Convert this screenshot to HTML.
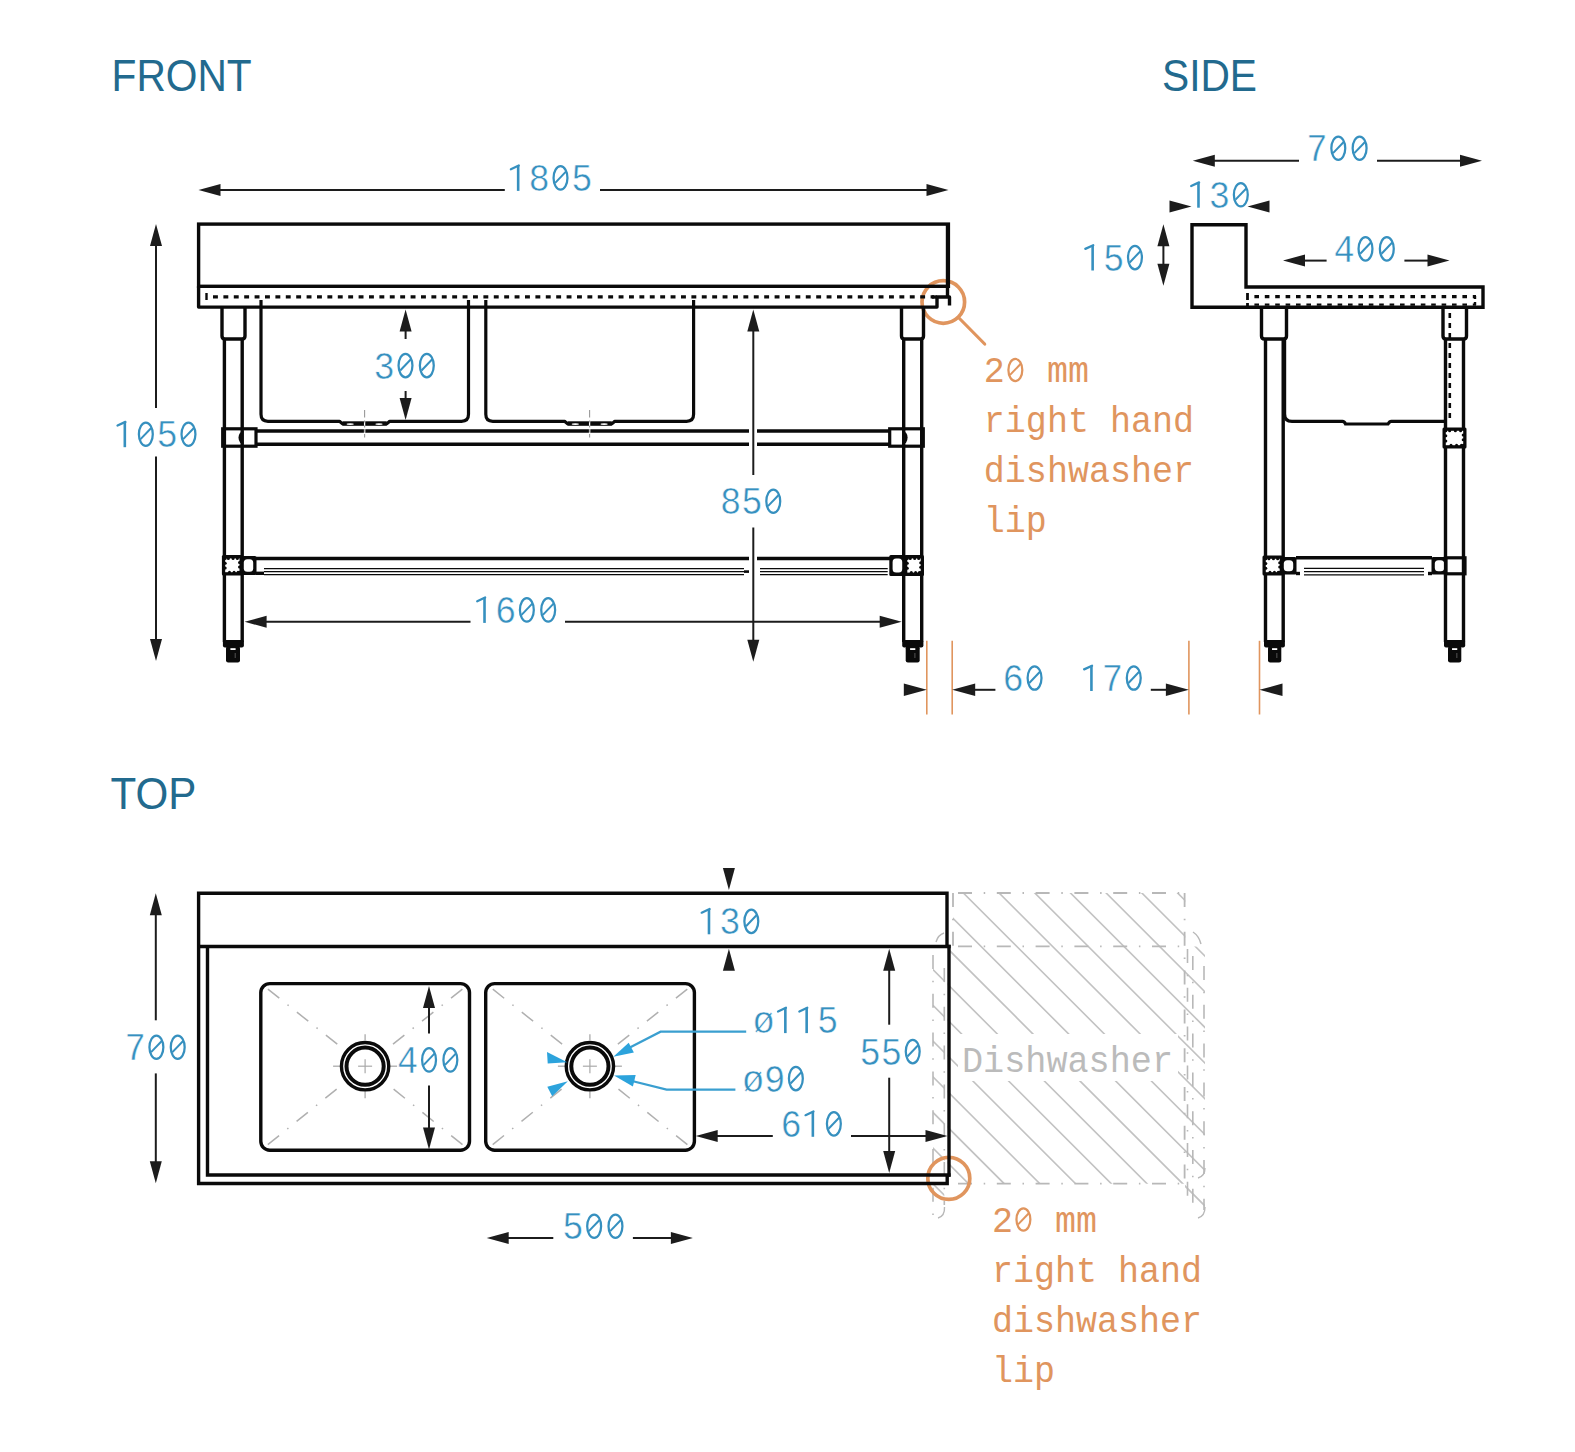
<!DOCTYPE html>
<html><head><meta charset="utf-8"><style>
html,body{margin:0;padding:0;background:#fff;}
svg{display:block;}
</style></head><body>
<svg width="1575" height="1452" viewBox="0 0 1575 1452">
<rect width="1575" height="1452" fill="#fff"/>
<defs><clipPath id="dwclip"><rect x="953" y="893" width="232.3" height="53.4"/><rect x="933" y="946.4" width="272" height="237.3"/><rect x="933" y="1183" width="11.3" height="29"/><rect x="1185" y="1183" width="20" height="29"/></clipPath></defs>
<g clip-path="url(#dwclip)"><line x1="403.6" y1="833" x2="803.6" y2="1233" stroke="#c2c2c2" stroke-width="1.6"/><line x1="439.3" y1="833" x2="839.3" y2="1233" stroke="#c2c2c2" stroke-width="1.6"/><line x1="475.0" y1="833" x2="875.0" y2="1233" stroke="#c2c2c2" stroke-width="1.6"/><line x1="510.7" y1="833" x2="910.7" y2="1233" stroke="#c2c2c2" stroke-width="1.6"/><line x1="546.4" y1="833" x2="946.4" y2="1233" stroke="#c2c2c2" stroke-width="1.6"/><line x1="582.1" y1="833" x2="982.1" y2="1233" stroke="#c2c2c2" stroke-width="1.6"/><line x1="617.8" y1="833" x2="1017.8" y2="1233" stroke="#c2c2c2" stroke-width="1.6"/><line x1="653.5" y1="833" x2="1053.5" y2="1233" stroke="#c2c2c2" stroke-width="1.6"/><line x1="689.2" y1="833" x2="1089.2" y2="1233" stroke="#c2c2c2" stroke-width="1.6"/><line x1="724.9" y1="833" x2="1124.9" y2="1233" stroke="#c2c2c2" stroke-width="1.6"/><line x1="760.6" y1="833" x2="1160.6" y2="1233" stroke="#c2c2c2" stroke-width="1.6"/><line x1="796.3" y1="833" x2="1196.3" y2="1233" stroke="#c2c2c2" stroke-width="1.6"/><line x1="832.0" y1="833" x2="1232.0" y2="1233" stroke="#c2c2c2" stroke-width="1.6"/><line x1="867.7" y1="833" x2="1267.7" y2="1233" stroke="#c2c2c2" stroke-width="1.6"/><line x1="903.4" y1="833" x2="1303.4" y2="1233" stroke="#c2c2c2" stroke-width="1.6"/><line x1="939.1" y1="833" x2="1339.1" y2="1233" stroke="#c2c2c2" stroke-width="1.6"/><line x1="974.8" y1="833" x2="1374.8" y2="1233" stroke="#c2c2c2" stroke-width="1.6"/><line x1="1010.5" y1="833" x2="1410.5" y2="1233" stroke="#c2c2c2" stroke-width="1.6"/><line x1="1046.2" y1="833" x2="1446.2" y2="1233" stroke="#c2c2c2" stroke-width="1.6"/><line x1="1081.9" y1="833" x2="1481.9" y2="1233" stroke="#c2c2c2" stroke-width="1.6"/><line x1="1117.6" y1="833" x2="1517.6" y2="1233" stroke="#c2c2c2" stroke-width="1.6"/><line x1="1153.3" y1="833" x2="1553.3" y2="1233" stroke="#c2c2c2" stroke-width="1.6"/><line x1="1189.0" y1="833" x2="1589.0" y2="1233" stroke="#c2c2c2" stroke-width="1.6"/><line x1="1224.7" y1="833" x2="1624.7" y2="1233" stroke="#c2c2c2" stroke-width="1.6"/><line x1="1260.4" y1="833" x2="1660.4" y2="1233" stroke="#c2c2c2" stroke-width="1.6"/><line x1="1296.1" y1="833" x2="1696.1" y2="1233" stroke="#c2c2c2" stroke-width="1.6"/><line x1="1331.8" y1="833" x2="1731.8" y2="1233" stroke="#c2c2c2" stroke-width="1.6"/><line x1="1367.5" y1="833" x2="1767.5" y2="1233" stroke="#c2c2c2" stroke-width="1.6"/><rect x="958" y="1034" width="220" height="47" fill="#fff"/><rect x="944.6" y="946" width="3" height="240" fill="#fff"/></g>
<line x1="953" y1="893" x2="1185.3" y2="893" stroke="#b8b8b8" stroke-width="1.8" stroke-dasharray="14 11.7 1.5 11.6" stroke-dashoffset="-5"/>
<line x1="953" y1="946.4" x2="1185.3" y2="946.4" stroke="#b8b8b8" stroke-width="1.8" stroke-dasharray="14 11.7 1.5 11.6" stroke-dashoffset="-5"/>
<line x1="953" y1="1183.7" x2="1185.3" y2="1183.7" stroke="#b8b8b8" stroke-width="1.8" stroke-dasharray="14 11.7 1.5 11.6" stroke-dashoffset="-5"/>
<line x1="953" y1="893" x2="953" y2="946.4" stroke="#b8b8b8" stroke-width="1.8" stroke-dasharray="14 11.7 1.5 11.6"/>
<line x1="1184.6" y1="893" x2="1184.6" y2="1183.7" stroke="#b8b8b8" stroke-width="1.8" stroke-dasharray="14 11.7 1.5 11.6"/>
<line x1="933" y1="955" x2="933" y2="1215" stroke="#b8b8b8" stroke-width="1.6" stroke-dasharray="14 11.7 1.5 11.6"/>
<line x1="944.3" y1="960" x2="944.3" y2="1205" stroke="#b8b8b8" stroke-width="1.6" stroke-dasharray="14 11.7 1.5 11.6" stroke-dashoffset="-8"/>
<line x1="1187.5" y1="946" x2="1187.5" y2="1205" stroke="#b8b8b8" stroke-width="1.6" stroke-dasharray="14 11.7 1.5 11.6" stroke-dashoffset="-3"/>
<line x1="1192.8" y1="946" x2="1192.8" y2="1205" stroke="#b8b8b8" stroke-width="1.6" stroke-dasharray="14 11.7 1.5 11.6" stroke-dashoffset="-10"/>
<line x1="1204" y1="960" x2="1204" y2="1210" stroke="#b8b8b8" stroke-width="1.6" stroke-dasharray="14 11.7 1.5 11.6" stroke-dashoffset="-6"/>
<path d="M936,942 Q938,935 944,933" stroke="#b8b8b8" stroke-width="1.4" fill="none" />
<path d="M1193,932 Q1199,936 1201,944" stroke="#b8b8b8" stroke-width="1.4" fill="none" />
<path d="M944.5,1207 Q945,1216 938,1218" stroke="#b8b8b8" stroke-width="1.4" fill="none" />
<path d="M1205,1207 Q1205,1216 1198,1218" stroke="#b8b8b8" stroke-width="1.4" fill="none" />
<path d="M1205,1168 Q1205,1176 1198,1178" stroke="#b8b8b8" stroke-width="1.4" fill="none" />
<circle cx="948.8" cy="1178.4" r="21" fill="none" stroke="#e0955e" stroke-width="3.7"/>
<circle cx="943.3" cy="302" r="21.3" fill="none" stroke="#e0955e" stroke-width="3.7"/>
<text transform="translate(111.6,91.0) scale(1.0,1.105)" x="0" y="0" font-family="Liberation Sans" font-size="40.7" fill="#226a8e">FRONT</text>
<polygon points="198.5,190.0 220.5,184.0 220.5,196.0" fill="#1c1c1c"/>
<polygon points="948.5,190.0 926.5,184.0 926.5,196.0" fill="#1c1c1c"/>
<line x1="219.5" y1="190" x2="504.8" y2="190" stroke="#1c1c1c" stroke-width="2.0" />
<line x1="600" y1="190" x2="927.5" y2="190" stroke="#1c1c1c" stroke-width="2.0" />
<text transform="translate(507.21,190.90) scale(1.045,1.14)" x="0" y="0" font-family="Liberation Mono" font-size="34" fill="#3690bf" stroke="#fff" stroke-width="0.45" xml:space="preserve"> 8 5</text>
<line x1="518.17" y1="190.90" x2="518.17" y2="165.57" stroke="#3690bf" stroke-width="2.6"/>
<path d="M518.77,165.57 L510.87,169.27" stroke="#3690bf" stroke-width="2.3" stroke-linecap="round" fill="none"/>
<ellipse cx="560.51" cy="177.94" rx="6.95" ry="11.71" fill="none" stroke="#3690bf" stroke-width="2.25"/>
<line x1="555.21" y1="182.84" x2="565.91" y2="171.64" stroke="#3690bf" stroke-width="2.0"/>
<rect x="198.6" y="224.1" width="749.8" height="62.20000000000002" rx="0" stroke="#0a0a0a" stroke-width="3.4" fill="none" />
<path d="M198.6,286.3 L198.6,307.1 L937,307.1 L937,297 L949.5,297 L949.5,305.5" stroke="#0a0a0a" stroke-width="3.4" fill="none" stroke-linejoin="round"/>
<line x1="932" y1="297" x2="937" y2="297" stroke="#0a0a0a" stroke-width="3.4" />
<line x1="947.5" y1="224" x2="947.5" y2="297" stroke="#0a0a0a" stroke-width="3.4" />
<line x1="213" y1="296.8" x2="934" y2="296.8" stroke="#0a0a0a" stroke-width="3.2" stroke-dasharray="4.9 5.5"/>
<line x1="206.5" y1="293" x2="206.5" y2="300" stroke="#0a0a0a" stroke-width="2.4" />
<path d="M222,307 L222,336 Q222,339 225,339 L242,339 Q245,339 245,336 L245,307" stroke="#0a0a0a" stroke-width="3.4" fill="none" />
<line x1="224.4" y1="339" x2="224.4" y2="642" stroke="#0a0a0a" stroke-width="3.4" />
<line x1="242.2" y1="339" x2="242.2" y2="642" stroke="#0a0a0a" stroke-width="3.4" />
<rect x="222.90" y="640.00" width="21.00" height="7.6" rx="2" fill="#0a0a0a"/>
<rect x="226" y="646" width="14.00" height="16.50" rx="2.2" fill="#0a0a0a"/>
<rect x="230.40" y="648.20" width="5.2" height="1.8" fill="#fff"/>
<line x1="235.20" y1="653.00" x2="235.20" y2="658.00" stroke="#555" stroke-width="1"/>
<path d="M901.5,307 L901.5,336 Q901.5,339 904.5,339 L920.5,339 Q923.5,339 923.5,336 L923.5,307" stroke="#0a0a0a" stroke-width="3.4" fill="none" />
<line x1="903.7" y1="339" x2="903.7" y2="642" stroke="#0a0a0a" stroke-width="3.4" />
<line x1="921.7" y1="339" x2="921.7" y2="642" stroke="#0a0a0a" stroke-width="3.4" />
<rect x="902.20" y="640.00" width="21.20" height="7.6" rx="2" fill="#0a0a0a"/>
<rect x="905.7" y="646" width="14.00" height="16.50" rx="2.2" fill="#0a0a0a"/>
<rect x="910.10" y="648.20" width="5.2" height="1.8" fill="#fff"/>
<line x1="914.90" y1="653.00" x2="914.90" y2="658.00" stroke="#555" stroke-width="1"/>
<path d="M261,300 L261,414.3 Q261,421.3 268,421.3 L339.5,421.3 L342.5,423.90000000000003 L386.7,423.90000000000003 L389.7,421.3 L461.5,421.3 Q468.5,421.3 468.5,414.3 L468.5,300" stroke="#0a0a0a" stroke-width="3.2" fill="none" stroke-linejoin="round"/>
<rect x="342.5" y="421.3" width="44.19999999999999" height="4.3" fill="#0a0a0a"/>
<ellipse cx="350.2" cy="424.1" rx="3.6" ry="0.9" fill="#fff"/>
<ellipse cx="379.0" cy="424.1" rx="3.6" ry="0.9" fill="#fff"/>
<line x1="364.6" y1="409" x2="364.6" y2="438" stroke="#fff" stroke-width="1.3" />
<line x1="364.6" y1="409.9" x2="364.6" y2="438" stroke="#999" stroke-width="1.1" stroke-dasharray="7.5 3 2 3 2 2.5 3.5"/>
<path d="M485.8,300 L485.8,414.3 Q485.8,421.3 492.8,421.3 L564.6,421.3 L567.6,423.90000000000003 L611.8,423.90000000000003 L614.8,421.3 L686.6,421.3 Q693.6,421.3 693.6,414.3 L693.6,300" stroke="#0a0a0a" stroke-width="3.2" fill="none" stroke-linejoin="round"/>
<rect x="567.6" y="421.3" width="44.19999999999993" height="4.3" fill="#0a0a0a"/>
<ellipse cx="575.3000000000001" cy="424.1" rx="3.6" ry="0.9" fill="#fff"/>
<ellipse cx="604.0999999999999" cy="424.1" rx="3.6" ry="0.9" fill="#fff"/>
<line x1="589.6" y1="409" x2="589.6" y2="438" stroke="#fff" stroke-width="1.3" />
<line x1="589.6" y1="409.9" x2="589.6" y2="438" stroke="#999" stroke-width="1.1" stroke-dasharray="7.5 3 2 3 2 2.5 3.5"/>
<line x1="255.8" y1="431" x2="749" y2="431" stroke="#0a0a0a" stroke-width="3.4" />
<line x1="757" y1="431" x2="889.7" y2="431" stroke="#0a0a0a" stroke-width="3.4" />
<line x1="255.8" y1="444.3" x2="749" y2="444.3" stroke="#0a0a0a" stroke-width="3.4" />
<line x1="757" y1="444.3" x2="889.7" y2="444.3" stroke="#0a0a0a" stroke-width="3.4" />
<rect x="222.7" y="428.8" width="33.30000000000001" height="17.399999999999977" rx="0" stroke="#0a0a0a" stroke-width="3.2" fill="none" />
<rect x="889.7" y="428.8" width="33.59999999999991" height="17.399999999999977" rx="0" stroke="#0a0a0a" stroke-width="3.2" fill="none" />
<path d="M243.5,431 A5,6.6 0 0 0 243.5,444.2 Z" fill="#0a0a0a"/>
<path d="M903,431.2 A4.6,6.4 0 0 1 903,444 Z" fill="#0a0a0a"/>
<line x1="364.6" y1="428.5" x2="364.6" y2="438" stroke="#fff" stroke-width="1.4" />
<line x1="364.6" y1="429" x2="364.6" y2="432.6" stroke="#aaa" stroke-width="1.1" />
<line x1="364.6" y1="433.9" x2="364.6" y2="437.5" stroke="#999" stroke-width="1.1" />
<line x1="589.6" y1="428.5" x2="589.6" y2="438" stroke="#fff" stroke-width="1.4" />
<line x1="589.6" y1="429" x2="589.6" y2="432.6" stroke="#aaa" stroke-width="1.1" />
<line x1="589.6" y1="433.9" x2="589.6" y2="437.5" stroke="#999" stroke-width="1.1" />
<line x1="256" y1="558.5" x2="749" y2="558.5" stroke="#0a0a0a" stroke-width="3.4" />
<line x1="757" y1="558.5" x2="890" y2="558.5" stroke="#0a0a0a" stroke-width="3.4" />
<line x1="256" y1="573.3" x2="264" y2="573.3" stroke="#0a0a0a" stroke-width="3.4" />
<line x1="264" y1="568.6" x2="744" y2="568.6" stroke="#0a0a0a" stroke-width="1.2" />
<line x1="760" y1="568.6" x2="887.7" y2="568.6" stroke="#0a0a0a" stroke-width="1.2" />
<line x1="264" y1="571.6" x2="744" y2="571.6" stroke="#0a0a0a" stroke-width="1.2" />
<line x1="760" y1="571.6" x2="887.7" y2="571.6" stroke="#0a0a0a" stroke-width="1.2" />
<line x1="264" y1="574.6" x2="744" y2="574.6" stroke="#0a0a0a" stroke-width="1.2" />
<line x1="760" y1="574.6" x2="887.7" y2="574.6" stroke="#0a0a0a" stroke-width="1.2" />
<line x1="744" y1="571.6" x2="749" y2="571.6" stroke="#0a0a0a" stroke-width="2.6" />
<rect x="240.5" y="556" width="16.00" height="19.00" rx="1.5" fill="#0a0a0a"/>
<rect x="243.80" y="559.30" width="9.40" height="12.40" rx="3.5" fill="#fff"/>
<rect x="221.9" y="555.1" width="20.90" height="20.40" rx="1.5" fill="#0a0a0a"/>
<rect x="225.20" y="558.40" width="14.30" height="13.80" fill="#fff"/>
<circle cx="228.35" cy="558.40" r="1.5" fill="#0a0a0a"/>
<circle cx="233.06" cy="558.40" r="1.5" fill="#0a0a0a"/>
<circle cx="237.35" cy="558.40" r="1.5" fill="#0a0a0a"/>
<circle cx="225.20" cy="563.23" r="1.5" fill="#0a0a0a"/>
<circle cx="225.20" cy="568.06" r="1.5" fill="#0a0a0a"/>
<circle cx="239.50" cy="562.54" r="1.5" fill="#0a0a0a"/>
<circle cx="239.50" cy="566.96" r="1.5" fill="#0a0a0a"/>
<circle cx="229.49" cy="572.20" r="1.5" fill="#0a0a0a"/>
<circle cx="234.07" cy="572.20" r="1.5" fill="#0a0a0a"/>
<circle cx="238.07" cy="572.20" r="1.5" fill="#0a0a0a"/>
<circle cx="225.20" cy="558.40" r="1.5" fill="#0a0a0a"/>
<circle cx="239.50" cy="572.20" r="1.5" fill="#0a0a0a"/>
<circle cx="232.35" cy="565.30" r="4.97" fill="#fff"/>
<rect x="889.3" y="555.1" width="16.20" height="20.80" rx="1.5" fill="#0a0a0a"/>
<rect x="892.60" y="558.40" width="9.60" height="14.20" rx="3.5" fill="#fff"/>
<rect x="904" y="555.1" width="20.00" height="20.80" rx="1.5" fill="#0a0a0a"/>
<rect x="907.30" y="558.40" width="13.40" height="14.20" fill="#fff"/>
<circle cx="910.25" cy="558.40" r="1.5" fill="#0a0a0a"/>
<circle cx="914.67" cy="558.40" r="1.5" fill="#0a0a0a"/>
<circle cx="918.69" cy="558.40" r="1.5" fill="#0a0a0a"/>
<circle cx="907.30" cy="563.37" r="1.5" fill="#0a0a0a"/>
<circle cx="907.30" cy="568.34" r="1.5" fill="#0a0a0a"/>
<circle cx="920.70" cy="562.66" r="1.5" fill="#0a0a0a"/>
<circle cx="920.70" cy="567.20" r="1.5" fill="#0a0a0a"/>
<circle cx="911.32" cy="572.60" r="1.5" fill="#0a0a0a"/>
<circle cx="915.61" cy="572.60" r="1.5" fill="#0a0a0a"/>
<circle cx="919.36" cy="572.60" r="1.5" fill="#0a0a0a"/>
<circle cx="907.30" cy="558.40" r="1.5" fill="#0a0a0a"/>
<circle cx="920.70" cy="572.60" r="1.5" fill="#0a0a0a"/>
<circle cx="914.00" cy="565.50" r="4.82" fill="#fff"/>
<polygon points="156.0,224.0 150.0,246.0 162.0,246.0" fill="#1c1c1c"/>
<polygon points="156.0,661.0 150.0,639.0 162.0,639.0" fill="#1c1c1c"/>
<line x1="156" y1="245" x2="156" y2="407.9" stroke="#1c1c1c" stroke-width="2.0" />
<line x1="156" y1="456.5" x2="156" y2="640" stroke="#1c1c1c" stroke-width="2.0" />
<text transform="translate(113.86,447.20) scale(1.045,1.14)" x="0" y="0" font-family="Liberation Mono" font-size="34" fill="#3690bf" stroke="#fff" stroke-width="0.45" xml:space="preserve">  5 </text>
<line x1="124.82" y1="447.20" x2="124.82" y2="421.87" stroke="#3690bf" stroke-width="2.6"/>
<path d="M125.42,421.87 L117.52,425.57" stroke="#3690bf" stroke-width="2.3" stroke-linecap="round" fill="none"/>
<ellipse cx="145.84" cy="434.24" rx="6.95" ry="11.71" fill="none" stroke="#3690bf" stroke-width="2.25"/>
<line x1="140.54" y1="439.14" x2="151.24" y2="427.94" stroke="#3690bf" stroke-width="2.0"/>
<ellipse cx="188.48" cy="434.24" rx="6.95" ry="11.71" fill="none" stroke="#3690bf" stroke-width="2.25"/>
<line x1="183.18" y1="439.14" x2="193.88" y2="427.94" stroke="#3690bf" stroke-width="2.0"/>
<polygon points="405.6,309.4 399.6,331.4 411.6,331.4" fill="#1c1c1c"/>
<line x1="405.6" y1="330" x2="405.6" y2="339" stroke="#1c1c1c" stroke-width="2.0" />
<polygon points="405.6,420.0 399.6,398.0 411.6,398.0" fill="#1c1c1c"/>
<line x1="405.6" y1="391" x2="405.6" y2="399" stroke="#1c1c1c" stroke-width="2.0" />
<text transform="translate(373.52,378.50) scale(1.045,1.14)" x="0" y="0" font-family="Liberation Mono" font-size="34" fill="#3690bf" stroke="#fff" stroke-width="0.45" xml:space="preserve">3  </text>
<ellipse cx="405.50" cy="365.54" rx="6.95" ry="11.71" fill="none" stroke="#3690bf" stroke-width="2.25"/>
<line x1="400.20" y1="370.44" x2="410.90" y2="359.24" stroke="#3690bf" stroke-width="2.0"/>
<ellipse cx="426.82" cy="365.54" rx="6.95" ry="11.71" fill="none" stroke="#3690bf" stroke-width="2.25"/>
<line x1="421.52" y1="370.44" x2="432.22" y2="359.24" stroke="#3690bf" stroke-width="2.0"/>
<polygon points="753.3,309.5 747.3,331.5 759.3,331.5" fill="#1c1c1c"/>
<polygon points="753.3,661.7 747.3,639.7 759.3,639.7" fill="#1c1c1c"/>
<line x1="753.3" y1="330.5" x2="753.3" y2="475" stroke="#1c1c1c" stroke-width="2.0" />
<line x1="753.3" y1="527.5" x2="753.3" y2="640.7" stroke="#1c1c1c" stroke-width="2.0" />
<text transform="translate(719.97,514.20) scale(1.045,1.14)" x="0" y="0" font-family="Liberation Mono" font-size="34" fill="#3690bf" stroke="#fff" stroke-width="0.45" xml:space="preserve">85 </text>
<ellipse cx="773.27" cy="501.24" rx="6.95" ry="11.71" fill="none" stroke="#3690bf" stroke-width="2.25"/>
<line x1="767.97" y1="506.14" x2="778.67" y2="494.94" stroke="#3690bf" stroke-width="2.0"/>
<polygon points="244.6,621.8 266.6,615.8 266.6,627.8" fill="#1c1c1c"/>
<polygon points="901.7,621.8 879.7,615.8 879.7,627.8" fill="#1c1c1c"/>
<line x1="265.6" y1="621.8" x2="470.5" y2="621.8" stroke="#1c1c1c" stroke-width="2.0" />
<line x1="565" y1="621.8" x2="880.7" y2="621.8" stroke="#1c1c1c" stroke-width="2.0" />
<text transform="translate(473.56,622.90) scale(1.045,1.14)" x="0" y="0" font-family="Liberation Mono" font-size="34" fill="#3690bf" stroke="#fff" stroke-width="0.45" xml:space="preserve"> 6  </text>
<line x1="484.52" y1="622.90" x2="484.52" y2="597.57" stroke="#3690bf" stroke-width="2.6"/>
<path d="M485.12,597.57 L477.22,601.27" stroke="#3690bf" stroke-width="2.3" stroke-linecap="round" fill="none"/>
<ellipse cx="526.86" cy="609.94" rx="6.95" ry="11.71" fill="none" stroke="#3690bf" stroke-width="2.25"/>
<line x1="521.56" y1="614.84" x2="532.26" y2="603.64" stroke="#3690bf" stroke-width="2.0"/>
<ellipse cx="548.18" cy="609.94" rx="6.95" ry="11.71" fill="none" stroke="#3690bf" stroke-width="2.25"/>
<line x1="542.88" y1="614.84" x2="553.58" y2="603.64" stroke="#3690bf" stroke-width="2.0"/>
<line x1="926.8" y1="640.8" x2="926.8" y2="714.5" stroke="#e0955e" stroke-width="1.6" />
<line x1="952.2" y1="640.8" x2="952.2" y2="714.5" stroke="#e0955e" stroke-width="1.6" />
<line x1="1188.9" y1="640.8" x2="1188.9" y2="714.5" stroke="#e0955e" stroke-width="1.6" />
<line x1="1259.5" y1="640.8" x2="1259.5" y2="714.5" stroke="#e0955e" stroke-width="1.6" />
<polygon points="926.8,689.8 903.8,683.5 903.8,696.1" fill="#1c1c1c"/>
<polygon points="952.2,689.8 975.2,683.5 975.2,696.1" fill="#1c1c1c"/>
<line x1="974" y1="689.8" x2="995.4" y2="689.8" stroke="#1c1c1c" stroke-width="2.0" />
<polygon points="1188.9,689.8 1165.9,683.5 1165.9,696.1" fill="#1c1c1c"/>
<line x1="1150.8" y1="689.8" x2="1167" y2="689.8" stroke="#1c1c1c" stroke-width="2.0" />
<polygon points="1259.5,689.8 1282.5,683.5 1282.5,696.1" fill="#1c1c1c"/>
<text transform="translate(1002.58,691.00) scale(1.045,1.14)" x="0" y="0" font-family="Liberation Mono" font-size="34" fill="#3690bf" stroke="#fff" stroke-width="0.45" xml:space="preserve">6 </text>
<ellipse cx="1034.56" cy="678.04" rx="6.95" ry="11.71" fill="none" stroke="#3690bf" stroke-width="2.25"/>
<line x1="1029.26" y1="682.94" x2="1039.96" y2="671.74" stroke="#3690bf" stroke-width="2.0"/>
<text transform="translate(1080.47,691.00) scale(1.045,1.14)" x="0" y="0" font-family="Liberation Mono" font-size="34" fill="#3690bf" stroke="#fff" stroke-width="0.45" xml:space="preserve"> 7 </text>
<line x1="1091.43" y1="691.00" x2="1091.43" y2="665.67" stroke="#3690bf" stroke-width="2.6"/>
<path d="M1092.03,665.67 L1084.13,669.37" stroke="#3690bf" stroke-width="2.3" stroke-linecap="round" fill="none"/>
<ellipse cx="1133.77" cy="678.04" rx="6.95" ry="11.71" fill="none" stroke="#3690bf" stroke-width="2.25"/>
<line x1="1128.47" y1="682.94" x2="1139.17" y2="671.74" stroke="#3690bf" stroke-width="2.0"/>
<line x1="958.5" y1="317.5" x2="984.7" y2="344" stroke="#e0955e" stroke-width="3.2" stroke-linecap="round"/>
<text transform="translate(983.84,382.30) scale(1.03,1.08)" x="0" y="0" font-family="Liberation Mono" font-size="34" fill="#e0955e" stroke="#fff" stroke-width="0.0" xml:space="preserve">2  mm</text>
<ellipse cx="1015.36" cy="370.02" rx="6.95" ry="11.03" fill="none" stroke="#e0955e" stroke-width="2.25"/>
<line x1="1010.06" y1="374.92" x2="1020.76" y2="363.72" stroke="#e0955e" stroke-width="2.0"/>
<text transform="translate(983.84,432.30) scale(1.03,1.08)" x="0" y="0" font-family="Liberation Mono" font-size="34" fill="#e0955e" stroke="#fff" stroke-width="0.0" xml:space="preserve">right hand</text>
<text transform="translate(983.84,482.30) scale(1.03,1.08)" x="0" y="0" font-family="Liberation Mono" font-size="34" fill="#e0955e" stroke="#fff" stroke-width="0.0" xml:space="preserve">dishwasher</text>
<text transform="translate(983.84,532.30) scale(1.03,1.08)" x="0" y="0" font-family="Liberation Mono" font-size="34" fill="#e0955e" stroke="#fff" stroke-width="0.0" xml:space="preserve">lip</text>
<text transform="translate(1162.0,90.5) scale(1.0,1.105)" x="0" y="0" font-family="Liberation Sans" font-size="40.7" fill="#226a8e">SIDE</text>
<polygon points="1192.8,160.7 1214.8,154.7 1214.8,166.7" fill="#1c1c1c"/>
<polygon points="1482.0,160.7 1460.0,154.7 1460.0,166.7" fill="#1c1c1c"/>
<line x1="1213.8" y1="160.7" x2="1299" y2="160.7" stroke="#1c1c1c" stroke-width="2.0" />
<line x1="1377" y1="160.7" x2="1461" y2="160.7" stroke="#1c1c1c" stroke-width="2.0" />
<text transform="translate(1306.32,161.20) scale(1.045,1.14)" x="0" y="0" font-family="Liberation Mono" font-size="34" fill="#3690bf" stroke="#fff" stroke-width="0.45" xml:space="preserve">7  </text>
<ellipse cx="1338.30" cy="148.24" rx="6.95" ry="11.71" fill="none" stroke="#3690bf" stroke-width="2.25"/>
<line x1="1333.00" y1="153.14" x2="1343.70" y2="141.94" stroke="#3690bf" stroke-width="2.0"/>
<ellipse cx="1359.62" cy="148.24" rx="6.95" ry="11.71" fill="none" stroke="#3690bf" stroke-width="2.25"/>
<line x1="1354.32" y1="153.14" x2="1365.02" y2="141.94" stroke="#3690bf" stroke-width="2.0"/>
<polygon points="1191.5,206.5 1169.5,200.5 1169.5,212.5" fill="#1c1c1c"/>
<polygon points="1247.5,206.5 1269.5,200.5 1269.5,212.5" fill="#1c1c1c"/>
<text transform="translate(1187.52,207.70) scale(1.045,1.14)" x="0" y="0" font-family="Liberation Mono" font-size="34" fill="#3690bf" stroke="#fff" stroke-width="0.45" xml:space="preserve"> 3 </text>
<line x1="1198.48" y1="207.70" x2="1198.48" y2="182.37" stroke="#3690bf" stroke-width="2.6"/>
<path d="M1199.08,182.37 L1191.18,186.07" stroke="#3690bf" stroke-width="2.3" stroke-linecap="round" fill="none"/>
<ellipse cx="1240.82" cy="194.74" rx="6.95" ry="11.71" fill="none" stroke="#3690bf" stroke-width="2.25"/>
<line x1="1235.52" y1="199.64" x2="1246.22" y2="188.44" stroke="#3690bf" stroke-width="2.0"/>
<polygon points="1163.4,224.3 1157.4,246.3 1169.4,246.3" fill="#1c1c1c"/>
<polygon points="1163.4,285.7 1157.4,263.7 1169.4,263.7" fill="#1c1c1c"/>
<line x1="1163.4" y1="244" x2="1163.4" y2="266" stroke="#1c1c1c" stroke-width="2.0" />
<text transform="translate(1081.67,270.50) scale(1.045,1.14)" x="0" y="0" font-family="Liberation Mono" font-size="34" fill="#3690bf" stroke="#fff" stroke-width="0.45" xml:space="preserve"> 5 </text>
<line x1="1092.63" y1="270.50" x2="1092.63" y2="245.17" stroke="#3690bf" stroke-width="2.6"/>
<path d="M1093.23,245.17 L1085.33,248.87" stroke="#3690bf" stroke-width="2.3" stroke-linecap="round" fill="none"/>
<ellipse cx="1134.97" cy="257.54" rx="6.95" ry="11.71" fill="none" stroke="#3690bf" stroke-width="2.25"/>
<line x1="1129.67" y1="262.44" x2="1140.37" y2="251.24" stroke="#3690bf" stroke-width="2.0"/>
<polygon points="1283.0,260.6 1305.0,254.6 1305.0,266.6" fill="#1c1c1c"/>
<line x1="1304" y1="260.6" x2="1326.6" y2="260.6" stroke="#1c1c1c" stroke-width="2.0" />
<polygon points="1449.5,260.6 1427.5,254.6 1427.5,266.6" fill="#1c1c1c"/>
<line x1="1404.4" y1="260.6" x2="1428" y2="260.6" stroke="#1c1c1c" stroke-width="2.0" />
<text transform="translate(1333.52,261.80) scale(1.045,1.14)" x="0" y="0" font-family="Liberation Mono" font-size="34" fill="#3690bf" stroke="#fff" stroke-width="0.45" xml:space="preserve">4  </text>
<ellipse cx="1365.50" cy="248.84" rx="6.95" ry="11.71" fill="none" stroke="#3690bf" stroke-width="2.25"/>
<line x1="1360.20" y1="253.74" x2="1370.90" y2="242.54" stroke="#3690bf" stroke-width="2.0"/>
<ellipse cx="1386.82" cy="248.84" rx="6.95" ry="11.71" fill="none" stroke="#3690bf" stroke-width="2.25"/>
<line x1="1381.52" y1="253.74" x2="1392.22" y2="242.54" stroke="#3690bf" stroke-width="2.0"/>
<path d="M1192,307.2 L1192,224.8 L1246,224.8 L1246,287 L1483,287 L1483,307.2 Z" stroke="#0a0a0a" stroke-width="3.4" fill="none" />
<line x1="1254.4" y1="296.6" x2="1476" y2="296.6" stroke="#0a0a0a" stroke-width="3.2" stroke-dasharray="4.6 5.8"/>
<line x1="1254.4" y1="304.6" x2="1476" y2="304.6" stroke="#0a0a0a" stroke-width="2.4" stroke-dasharray="4.6 5.8"/>
<line x1="1247.5" y1="293" x2="1247.5" y2="300" stroke="#0a0a0a" stroke-width="2.8" />
<line x1="1247.5" y1="303" x2="1247.5" y2="306" stroke="#0a0a0a" stroke-width="2.8" />
<line x1="1475" y1="296" x2="1475" y2="306" stroke="#0a0a0a" stroke-width="2.4" stroke-dasharray="3 3"/>
<path d="M1261.5,307 L1261.5,336 Q1261.5,339 1264.5,339 L1283.5,339 Q1286.5,339 1286.5,336 L1286.5,307" stroke="#0a0a0a" stroke-width="3.4" fill="none" />
<line x1="1265.5" y1="339" x2="1265.5" y2="642" stroke="#0a0a0a" stroke-width="3.4" />
<line x1="1283.2" y1="339" x2="1283.2" y2="642" stroke="#0a0a0a" stroke-width="3.4" />
<rect x="1264.00" y="640.00" width="20.90" height="7.6" rx="2" fill="#0a0a0a"/>
<rect x="1268" y="646" width="13.30" height="16.50" rx="2.2" fill="#0a0a0a"/>
<rect x="1272.05" y="648.20" width="5.2" height="1.8" fill="#fff"/>
<line x1="1276.85" y1="653.00" x2="1276.85" y2="658.00" stroke="#555" stroke-width="1"/>
<path d="M1443,307 L1443,336 Q1443,339 1446,339 L1463.5,339 Q1466.5,339 1466.5,336 L1466.5,307" stroke="#0a0a0a" stroke-width="3.4" fill="none" />
<line x1="1445.5" y1="339" x2="1445.5" y2="642" stroke="#0a0a0a" stroke-width="3.4" />
<line x1="1463.5" y1="339" x2="1463.5" y2="642" stroke="#0a0a0a" stroke-width="3.4" />
<rect x="1444.00" y="640.00" width="21.20" height="7.6" rx="2" fill="#0a0a0a"/>
<rect x="1448" y="646" width="13.30" height="16.50" rx="2.2" fill="#0a0a0a"/>
<rect x="1452.05" y="648.20" width="5.2" height="1.8" fill="#fff"/>
<line x1="1456.85" y1="653.00" x2="1456.85" y2="658.00" stroke="#555" stroke-width="1"/>
<line x1="1449.8" y1="313" x2="1449.8" y2="420" stroke="#0a0a0a" stroke-width="2.6" stroke-dasharray="5 5"/>
<path d="M1284.6,339 L1284.6,414 Q1284.6,421.4 1292,421.4 L1342.5,421.4 Q1344.5,421.4 1345.5,424 L1388,424 Q1389.5,421.4 1391.3,421.4 L1446,421.4" stroke="#0a0a0a" stroke-width="3.2" fill="none" />
<rect x="1442.5" y="427.5" width="24.00" height="21.00" rx="1.5" fill="#0a0a0a"/>
<rect x="1445.80" y="430.80" width="17.40" height="14.40" fill="#fff"/>
<circle cx="1449.63" cy="430.80" r="1.5" fill="#0a0a0a"/>
<circle cx="1455.37" cy="430.80" r="1.5" fill="#0a0a0a"/>
<circle cx="1460.59" cy="430.80" r="1.5" fill="#0a0a0a"/>
<circle cx="1445.80" cy="435.84" r="1.5" fill="#0a0a0a"/>
<circle cx="1445.80" cy="440.88" r="1.5" fill="#0a0a0a"/>
<circle cx="1463.20" cy="435.12" r="1.5" fill="#0a0a0a"/>
<circle cx="1463.20" cy="439.73" r="1.5" fill="#0a0a0a"/>
<circle cx="1451.02" cy="445.20" r="1.5" fill="#0a0a0a"/>
<circle cx="1456.59" cy="445.20" r="1.5" fill="#0a0a0a"/>
<circle cx="1461.46" cy="445.20" r="1.5" fill="#0a0a0a"/>
<circle cx="1445.80" cy="430.80" r="1.5" fill="#0a0a0a"/>
<circle cx="1463.20" cy="445.20" r="1.5" fill="#0a0a0a"/>
<circle cx="1454.50" cy="438.00" r="5.18" fill="#fff"/>
<line x1="1296" y1="557.8" x2="1432" y2="557.8" stroke="#0a0a0a" stroke-width="3.4" />
<line x1="1304" y1="568.4" x2="1424" y2="568.4" stroke="#0a0a0a" stroke-width="1.2" />
<line x1="1304" y1="571.6" x2="1424" y2="571.6" stroke="#0a0a0a" stroke-width="1.2" />
<line x1="1304" y1="574.8" x2="1424" y2="574.8" stroke="#0a0a0a" stroke-width="1.2" />
<rect x="1280.5" y="557" width="16.00" height="17.50" rx="1.5" fill="#0a0a0a"/>
<rect x="1283.80" y="560.30" width="9.40" height="10.90" rx="3.5" fill="#fff"/>
<rect x="1262.5" y="555.5" width="20.50" height="20.00" rx="1.5" fill="#0a0a0a"/>
<rect x="1265.80" y="558.80" width="13.90" height="13.40" fill="#fff"/>
<circle cx="1268.86" cy="558.80" r="1.5" fill="#0a0a0a"/>
<circle cx="1273.44" cy="558.80" r="1.5" fill="#0a0a0a"/>
<circle cx="1277.62" cy="558.80" r="1.5" fill="#0a0a0a"/>
<circle cx="1265.80" cy="563.49" r="1.5" fill="#0a0a0a"/>
<circle cx="1265.80" cy="568.18" r="1.5" fill="#0a0a0a"/>
<circle cx="1279.70" cy="562.82" r="1.5" fill="#0a0a0a"/>
<circle cx="1279.70" cy="567.11" r="1.5" fill="#0a0a0a"/>
<circle cx="1269.97" cy="572.20" r="1.5" fill="#0a0a0a"/>
<circle cx="1274.42" cy="572.20" r="1.5" fill="#0a0a0a"/>
<circle cx="1278.31" cy="572.20" r="1.5" fill="#0a0a0a"/>
<circle cx="1265.80" cy="558.80" r="1.5" fill="#0a0a0a"/>
<circle cx="1279.70" cy="572.20" r="1.5" fill="#0a0a0a"/>
<circle cx="1272.75" cy="565.50" r="4.82" fill="#fff"/>
<rect x="1431.5" y="557" width="16.00" height="17.50" rx="1.5" fill="#0a0a0a"/>
<rect x="1434.80" y="560.30" width="9.40" height="10.90" rx="3.5" fill="#fff"/>
<rect x="1445.5" y="557.8" width="19.5" height="16.0" rx="0" stroke="#0a0a0a" stroke-width="3.2" fill="none" />
<line x1="1296" y1="573.5" x2="1300" y2="573.5" stroke="#0a0a0a" stroke-width="3.4" />
<line x1="1428" y1="573.5" x2="1432" y2="573.5" stroke="#0a0a0a" stroke-width="3.4" />
<text transform="translate(110.6,808.7) scale(1.035,1.105)" x="0" y="0" font-family="Liberation Sans" font-size="40.7" fill="#226a8e">TOP</text>
<path d="M947.2,1175 L947.2,1183.5 L198.6,1183.5 L198.6,893.2 L947,893.2 L947,946.5" stroke="#0a0a0a" stroke-width="3.4" fill="none" stroke-linejoin="miter"/>
<line x1="198.6" y1="946.5" x2="950.6" y2="946.5" stroke="#0a0a0a" stroke-width="3.4" />
<path d="M949,946.5 L949,1175" stroke="#0a0a0a" stroke-width="3.4" fill="none" stroke-linecap="square"/>
<path d="M207.5,946.5 L207.5,1175 L950.6,1175" stroke="#0a0a0a" stroke-width="3.4" fill="none" />
<line x1="267.9" y1="989.2" x2="341.6" y2="1047.6" stroke="#b0b0b0" stroke-width="1.5" stroke-dasharray="14.5 10.5 1.5 10.5"/>
<line x1="462.4" y1="989.2" x2="388.6" y2="1047.6" stroke="#b0b0b0" stroke-width="1.5" stroke-dasharray="14.5 10.5 1.5 10.5"/>
<line x1="267.8" y1="1144.7" x2="341.7" y2="1085.0" stroke="#b0b0b0" stroke-width="1.5" stroke-dasharray="14.5 10.5 1.5 10.5"/>
<line x1="462.5" y1="1144.7" x2="388.5" y2="1085.0" stroke="#b0b0b0" stroke-width="1.5" stroke-dasharray="14.5 10.5 1.5 10.5"/>
<rect x="260.8" y="983.6" width="208.7" height="166.69999999999993" rx="9" stroke="#0a0a0a" stroke-width="3.4" fill="none" />
<line x1="333.1" y1="1066.2" x2="340.1" y2="1066.2" stroke="#aaa" stroke-width="1.3" />
<line x1="390.1" y1="1066.2" x2="397.1" y2="1066.2" stroke="#aaa" stroke-width="1.3" />
<line x1="365.1" y1="1034.2" x2="365.1" y2="1040.2" stroke="#aaa" stroke-width="1.3" />
<line x1="365.1" y1="1091.2" x2="365.1" y2="1098.2" stroke="#aaa" stroke-width="1.3" />
<line x1="358.1" y1="1066.2" x2="372.1" y2="1066.2" stroke="#aaa" stroke-width="1.2" />
<line x1="365.1" y1="1059.2" x2="365.1" y2="1073.2" stroke="#aaa" stroke-width="1.2" />
<circle cx="365.1" cy="1066.2" r="23.65" fill="none" stroke="#0a0a0a" stroke-width="3.4"/>
<circle cx="365.1" cy="1066.2" r="18.6" fill="none" stroke="#0a0a0a" stroke-width="4"/>
<line x1="492.8" y1="989.2" x2="566.4" y2="1047.6" stroke="#b0b0b0" stroke-width="1.5" stroke-dasharray="14.5 10.5 1.5 10.5"/>
<line x1="687.3" y1="989.2" x2="613.4" y2="1047.6" stroke="#b0b0b0" stroke-width="1.5" stroke-dasharray="14.5 10.5 1.5 10.5"/>
<line x1="492.7" y1="1144.6" x2="566.6" y2="1085.0" stroke="#b0b0b0" stroke-width="1.5" stroke-dasharray="14.5 10.5 1.5 10.5"/>
<line x1="687.4" y1="1144.7" x2="613.3" y2="1085.0" stroke="#b0b0b0" stroke-width="1.5" stroke-dasharray="14.5 10.5 1.5 10.5"/>
<rect x="485.7" y="983.6" width="208.7" height="166.69999999999993" rx="9" stroke="#0a0a0a" stroke-width="3.4" fill="none" />
<line x1="557.9" y1="1066.2" x2="564.9" y2="1066.2" stroke="#aaa" stroke-width="1.3" />
<line x1="614.9" y1="1066.2" x2="621.9" y2="1066.2" stroke="#aaa" stroke-width="1.3" />
<line x1="589.9" y1="1034.2" x2="589.9" y2="1040.2" stroke="#aaa" stroke-width="1.3" />
<line x1="589.9" y1="1091.2" x2="589.9" y2="1098.2" stroke="#aaa" stroke-width="1.3" />
<line x1="582.9" y1="1066.2" x2="596.9" y2="1066.2" stroke="#aaa" stroke-width="1.2" />
<line x1="589.9" y1="1059.2" x2="589.9" y2="1073.2" stroke="#aaa" stroke-width="1.2" />
<circle cx="589.9" cy="1066.2" r="23.65" fill="none" stroke="#0a0a0a" stroke-width="3.4"/>
<circle cx="589.9" cy="1066.2" r="18.6" fill="none" stroke="#0a0a0a" stroke-width="4"/>
<polygon points="155.8,893.3 149.8,915.3 161.8,915.3" fill="#1c1c1c"/>
<polygon points="155.8,1183.2 149.8,1161.2 161.8,1161.2" fill="#1c1c1c"/>
<line x1="155.8" y1="914.3" x2="155.8" y2="1020.3" stroke="#1c1c1c" stroke-width="2.0" />
<line x1="155.8" y1="1073.4" x2="155.8" y2="1162.2" stroke="#1c1c1c" stroke-width="2.0" />
<text transform="translate(124.42,1060.20) scale(1.045,1.14)" x="0" y="0" font-family="Liberation Mono" font-size="34" fill="#3690bf" stroke="#fff" stroke-width="0.45" xml:space="preserve">7  </text>
<ellipse cx="156.40" cy="1047.24" rx="6.95" ry="11.71" fill="none" stroke="#3690bf" stroke-width="2.25"/>
<line x1="151.10" y1="1052.14" x2="161.80" y2="1040.94" stroke="#3690bf" stroke-width="2.0"/>
<ellipse cx="177.72" cy="1047.24" rx="6.95" ry="11.71" fill="none" stroke="#3690bf" stroke-width="2.25"/>
<line x1="172.42" y1="1052.14" x2="183.12" y2="1040.94" stroke="#3690bf" stroke-width="2.0"/>
<polygon points="728.9,890.0 722.9,868.0 734.9,868.0" fill="#1c1c1c"/>
<polygon points="728.9,948.8 722.9,970.8 734.9,970.8" fill="#1c1c1c"/>
<text transform="translate(698.02,934.30) scale(1.045,1.14)" x="0" y="0" font-family="Liberation Mono" font-size="34" fill="#3690bf" stroke="#fff" stroke-width="0.45" xml:space="preserve"> 3 </text>
<line x1="708.98" y1="934.30" x2="708.98" y2="908.97" stroke="#3690bf" stroke-width="2.6"/>
<path d="M709.58,908.97 L701.68,912.67" stroke="#3690bf" stroke-width="2.3" stroke-linecap="round" fill="none"/>
<ellipse cx="751.32" cy="921.34" rx="6.95" ry="11.71" fill="none" stroke="#3690bf" stroke-width="2.25"/>
<line x1="746.02" y1="926.24" x2="756.72" y2="915.04" stroke="#3690bf" stroke-width="2.0"/>
<polygon points="429.0,986.0 423.0,1008.0 435.0,1008.0" fill="#1c1c1c"/>
<polygon points="429.0,1149.4 423.0,1127.4 435.0,1127.4" fill="#1c1c1c"/>
<line x1="429" y1="1007" x2="429" y2="1033.6" stroke="#1c1c1c" stroke-width="2.0" />
<line x1="429" y1="1085.5" x2="429" y2="1128.4" stroke="#1c1c1c" stroke-width="2.0" />
<text transform="translate(397.07,1072.90) scale(1.045,1.14)" x="0" y="0" font-family="Liberation Mono" font-size="34" fill="#3690bf" stroke="#fff" stroke-width="0.45" xml:space="preserve">4  </text>
<ellipse cx="429.05" cy="1059.94" rx="6.95" ry="11.71" fill="none" stroke="#3690bf" stroke-width="2.25"/>
<line x1="423.75" y1="1064.84" x2="434.45" y2="1053.64" stroke="#3690bf" stroke-width="2.0"/>
<ellipse cx="450.37" cy="1059.94" rx="6.95" ry="11.71" fill="none" stroke="#3690bf" stroke-width="2.25"/>
<line x1="445.07" y1="1064.84" x2="455.77" y2="1053.64" stroke="#3690bf" stroke-width="2.0"/>
<polygon points="889.2,948.8 883.2,970.8 895.2,970.8" fill="#1c1c1c"/>
<polygon points="889.2,1172.9 883.2,1150.9 895.2,1150.9" fill="#1c1c1c"/>
<line x1="889.2" y1="969.8" x2="889.2" y2="1024.7" stroke="#1c1c1c" stroke-width="2.0" />
<line x1="889.2" y1="1077.7" x2="889.2" y2="1151.9" stroke="#1c1c1c" stroke-width="2.0" />
<text transform="translate(859.42,1064.50) scale(1.045,1.14)" x="0" y="0" font-family="Liberation Mono" font-size="34" fill="#3690bf" stroke="#fff" stroke-width="0.45" xml:space="preserve">55 </text>
<ellipse cx="912.72" cy="1051.54" rx="6.95" ry="11.71" fill="none" stroke="#3690bf" stroke-width="2.25"/>
<line x1="907.42" y1="1056.44" x2="918.12" y2="1045.24" stroke="#3690bf" stroke-width="2.0"/>
<polygon points="695.7,1136.0 717.7,1130.0 717.7,1142.0" fill="#1c1c1c"/>
<polygon points="947.5,1136.0 925.5,1130.0 925.5,1142.0" fill="#1c1c1c"/>
<line x1="716.7" y1="1136" x2="772.8" y2="1136" stroke="#1c1c1c" stroke-width="2.0" />
<line x1="851" y1="1136" x2="926.5" y2="1136" stroke="#1c1c1c" stroke-width="2.0" />
<text transform="translate(780.57,1136.80) scale(1.045,1.14)" x="0" y="0" font-family="Liberation Mono" font-size="34" fill="#3690bf" stroke="#fff" stroke-width="0.45" xml:space="preserve">6  </text>
<line x1="812.85" y1="1136.80" x2="812.85" y2="1111.47" stroke="#3690bf" stroke-width="2.6"/>
<path d="M813.45,1111.47 L805.55,1115.17" stroke="#3690bf" stroke-width="2.3" stroke-linecap="round" fill="none"/>
<ellipse cx="833.87" cy="1123.84" rx="6.95" ry="11.71" fill="none" stroke="#3690bf" stroke-width="2.25"/>
<line x1="828.57" y1="1128.74" x2="839.27" y2="1117.54" stroke="#3690bf" stroke-width="2.0"/>
<polygon points="486.7,1238.0 508.7,1232.0 508.7,1244.0" fill="#1c1c1c"/>
<polygon points="692.9,1238.0 670.9,1232.0 670.9,1244.0" fill="#1c1c1c"/>
<line x1="507.7" y1="1238" x2="553.3" y2="1238" stroke="#1c1c1c" stroke-width="2.0" />
<line x1="632.9" y1="1238" x2="671.9" y2="1238" stroke="#1c1c1c" stroke-width="2.0" />
<text transform="translate(562.17,1239.20) scale(1.045,1.14)" x="0" y="0" font-family="Liberation Mono" font-size="34" fill="#3690bf" stroke="#fff" stroke-width="0.45" xml:space="preserve">5  </text>
<ellipse cx="594.15" cy="1226.24" rx="6.95" ry="11.71" fill="none" stroke="#3690bf" stroke-width="2.25"/>
<line x1="588.85" y1="1231.14" x2="599.55" y2="1219.94" stroke="#3690bf" stroke-width="2.0"/>
<ellipse cx="615.47" cy="1226.24" rx="6.95" ry="11.71" fill="none" stroke="#3690bf" stroke-width="2.25"/>
<line x1="610.17" y1="1231.14" x2="620.87" y2="1219.94" stroke="#3690bf" stroke-width="2.0"/>
<path d="M746.2,1031.7 L660.6,1031.7 L625,1050" stroke="#3a9fd0" stroke-width="2.2" fill="none" />
<path d="M735.4,1089.6 L666.6,1089.6 L628,1080" stroke="#3a9fd0" stroke-width="2.2" fill="none" />
<polygon points="613.3,1056.8 628.7,1042.8 633.9,1052.6" fill="#2ca3dc"/>
<polygon points="567.2,1062.3 547,1051.9 547.7,1063.4" fill="#2ca3dc"/>
<polygon points="614,1075.6 635.7,1074.9 632.9,1086.4" fill="#2ca3dc"/>
<polygon points="567.9,1081.2 547.3,1086.8 552.2,1096.2" fill="#2ca3dc"/>
<text transform="translate(753.06,1033.10) scale(1.045,1.14)" x="0" y="0" font-family="Liberation Mono" font-size="34" fill="#3690bf" stroke="#fff" stroke-width="0.45" xml:space="preserve">ø  5</text>
<line x1="785.34" y1="1033.10" x2="785.34" y2="1007.77" stroke="#3690bf" stroke-width="2.6"/>
<path d="M785.94,1007.77 L778.04,1011.47" stroke="#3690bf" stroke-width="2.3" stroke-linecap="round" fill="none"/>
<line x1="806.66" y1="1033.10" x2="806.66" y2="1007.77" stroke="#3690bf" stroke-width="2.6"/>
<path d="M807.26,1007.77 L799.36,1011.47" stroke="#3690bf" stroke-width="2.3" stroke-linecap="round" fill="none"/>
<text transform="translate(742.57,1091.50) scale(1.045,1.14)" x="0" y="0" font-family="Liberation Mono" font-size="34" fill="#3690bf" stroke="#fff" stroke-width="0.45" xml:space="preserve">ø9 </text>
<ellipse cx="795.87" cy="1078.54" rx="6.95" ry="11.71" fill="none" stroke="#3690bf" stroke-width="2.25"/>
<line x1="790.57" y1="1083.44" x2="801.27" y2="1072.24" stroke="#3690bf" stroke-width="2.0"/>
<text transform="translate(961.93,1071.70) scale(1.035,1.08)" x="0" y="0" font-family="Liberation Mono" font-size="34" fill="#bbbbbb" stroke="#fff" stroke-width="0.0" xml:space="preserve">Dishwasher</text>
<text transform="translate(991.89,1231.80) scale(1.03,1.08)" x="0" y="0" font-family="Liberation Mono" font-size="34" fill="#e0955e" stroke="#fff" stroke-width="0.0" xml:space="preserve">2  mm</text>
<ellipse cx="1023.41" cy="1219.52" rx="6.95" ry="11.03" fill="none" stroke="#e0955e" stroke-width="2.25"/>
<line x1="1018.11" y1="1224.42" x2="1028.81" y2="1213.22" stroke="#e0955e" stroke-width="2.0"/>
<text transform="translate(991.89,1281.80) scale(1.03,1.08)" x="0" y="0" font-family="Liberation Mono" font-size="34" fill="#e0955e" stroke="#fff" stroke-width="0.0" xml:space="preserve">right hand</text>
<text transform="translate(991.89,1331.80) scale(1.03,1.08)" x="0" y="0" font-family="Liberation Mono" font-size="34" fill="#e0955e" stroke="#fff" stroke-width="0.0" xml:space="preserve">dishwasher</text>
<text transform="translate(991.89,1381.80) scale(1.03,1.08)" x="0" y="0" font-family="Liberation Mono" font-size="34" fill="#e0955e" stroke="#fff" stroke-width="0.0" xml:space="preserve">lip</text>
</svg></body></html>
